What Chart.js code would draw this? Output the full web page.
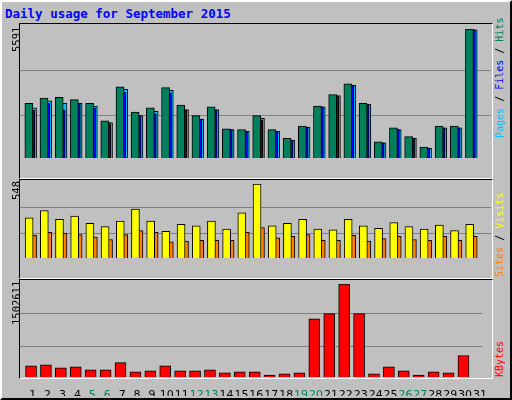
<!DOCTYPE html>
<html><head><meta charset="utf-8">
<script src="https://cdn.jsdelivr.net/npm/chart.js@4"></script>
<style>
body{margin:0;background:#C0C0C0;}
#frame{position:absolute;left:0;top:0;width:508px;height:396px;border:2px solid;border-color:#fff #000 #000 #fff;background:#C0C0C0;}
.panel{position:absolute;border:1px solid;border-color:#000 #fff #fff #000;background:#C0C0C0;}
canvas{position:absolute;}
.rot{position:absolute;transform-origin:left top;transform:rotate(-90deg);white-space:nowrap;font-family:"DejaVu Sans Mono",monospace;}
#title{position:absolute;left:5px;top:6px;font:bold 12.5px "DejaVu Sans Mono",monospace;color:#0000FF;}
</style></head><body>
<div id="frame"></div>
<div id="title">Daily usage for September 2015</div>
<div class="panel" style="left:19px;top:23px;width:472px;height:154px"></div>
<div class="panel" style="left:19px;top:179px;width:472px;height:98px"></div>
<div class="panel" style="left:19px;top:279px;width:472px;height:98px"></div>
<canvas id="c1" style="left:20px;top:29px" width="471" height="148"></canvas>
<canvas id="c2" style="left:20px;top:184px" width="471" height="93"></canvas>
<canvas id="c3" style="left:20px;top:284px" width="471" height="112"></canvas>
<div class="rot" style="left:11px;top:52px;font-size:10.5px;line-height:10px">5591</div>
<div class="rot" style="left:11px;top:200px;font-size:10.5px;line-height:10px">548</div>
<div class="rot" style="left:11px;top:325px;font-size:10.5px;line-height:10px">1502611</div>
<div class="rot" style="left:495px;top:138px;font-size:10px;line-height:10px"><span style="color:#00C0FF">Pages</span> / <span style="color:#0000FF">Files</span> / <span style="color:#00805C">Hits</span></div>
<div class="rot" style="left:495px;top:277px;font-size:10px;line-height:10px"><span style="color:#FF8000">Sites</span> / <span style="color:#FFFF00">Visits</span></div>
<div class="rot" style="left:495px;top:377px;font-size:10px;line-height:10px"><span style="color:#FF0000">KBytes</span></div>
<script>
const days=[1,2,3,4,5,6,7,8,9,10,11,12,13,14,15,16,17,18,19,20,21,22,23,24,25,26,27,28,29,30,31];
const weekend=[5,6,12,13,19,20,26,27];
const hits=[2365,2593,2631,2530,2365,1606,3086,1986,2176,3049,2290,1834,2214,1265,1227,1834,1227,848,1379,2252,2745,3213,2365,696,1303,923,468,1379,1379,5591,0];
const files=[2062,2365,2062,2365,2176,1493,2859,1834,1910,2821,2062,1682,2062,1227,1151,1644,1151,772,1341,2214,2669,3137,2328,658,1227,848,430,1303,1303,5553,0];
const pages=[2176,2479,2365,2365,2252,1531,2973,1834,2024,2935,2100,1682,2100,1227,1151,1720,1151,772,1341,2214,2707,3162,2328,658,1227,848,430,1303,1303,5553,0];
const visits=[298,351,286,310,256,232,274,363,274,197,250,238,274,214,334,548,238,256,286,214,208,286,238,220,262,232,214,244,203,250,0];
const sites=[167,191,185,173,155,137,173,203,191,119,125,131,131,131,191,226,149,161,173,131,131,167,125,143,161,137,131,161,131,161,0];
const kbytes=[181600,198100,148600,165100,115600,115600,231200,82600,99100,181600,99100,99100,115600,66000,82600,82600,33000,49500,66000,941200,1023700,1502611,1023700,49500,165100,99100,33000,82600,66000,346800,0];
const maxes=[5591,548,1502611];

function ds(vals,off,color,w,order){
  return {data:vals.map((v,i)=>({x:days[i]+off,y:v})),backgroundColor:color,borderColor:'#000',borderWidth:1,barThickness:w,order:order,grouped:false,borderSkipped:'bottom'};
}
function make(id,datasets,max,showX){
  new Chart(document.getElementById(id),{type:'bar',data:{datasets},
    options:{responsive:false,animation:false,devicePixelRatio:1,events:[],
      layout:{padding:0},
      plugins:{legend:{display:false},tooltip:{enabled:false}},
      scales:{
        x:{type:'linear',min:0.5,max:31.5,offset:false,display:showX,grid:{display:false},border:{display:false},
          afterBuildTicks:s=>{s.ticks=days.map(d=>({value:d+0.35}));},
          afterFit:s=>{s.height=19;},
          ticks:{autoSkip:false,maxRotation:0,padding:4,font:{family:'DejaVu Sans',size:11},
            callback:(v,i)=>String(days[i]),
            color:c=>weekend.includes(days[c.index])?'#00805C':'#000'}},
        y:{min:0,max:max,display:true,border:{display:false},
          afterBuildTicks:s=>{s.ticks=[{value:max*0.33},{value:max*0.68}];},
          afterFit:s=>{s.width=0;},
          ticks:{display:false},grid:{color:'#808080',lineWidth:1,drawTicks:false}}
      }}});
}
make('c1',[ds(hits,0.08,'#00805C',8,1),ds(files,0.21,'#0000FF',8,2),ds(pages,0.36,'#00C0FF',7,3)],maxes[0],false);
make('c2',[ds(visits,0.1,'#FFFF00',8,1),ds(sites,0.36,'#FF8000',7,2)],maxes[1],false);
make('c3',[ds(kbytes,0.24,'#FF0000',11,1)],maxes[2],true);
</script></body></html>
